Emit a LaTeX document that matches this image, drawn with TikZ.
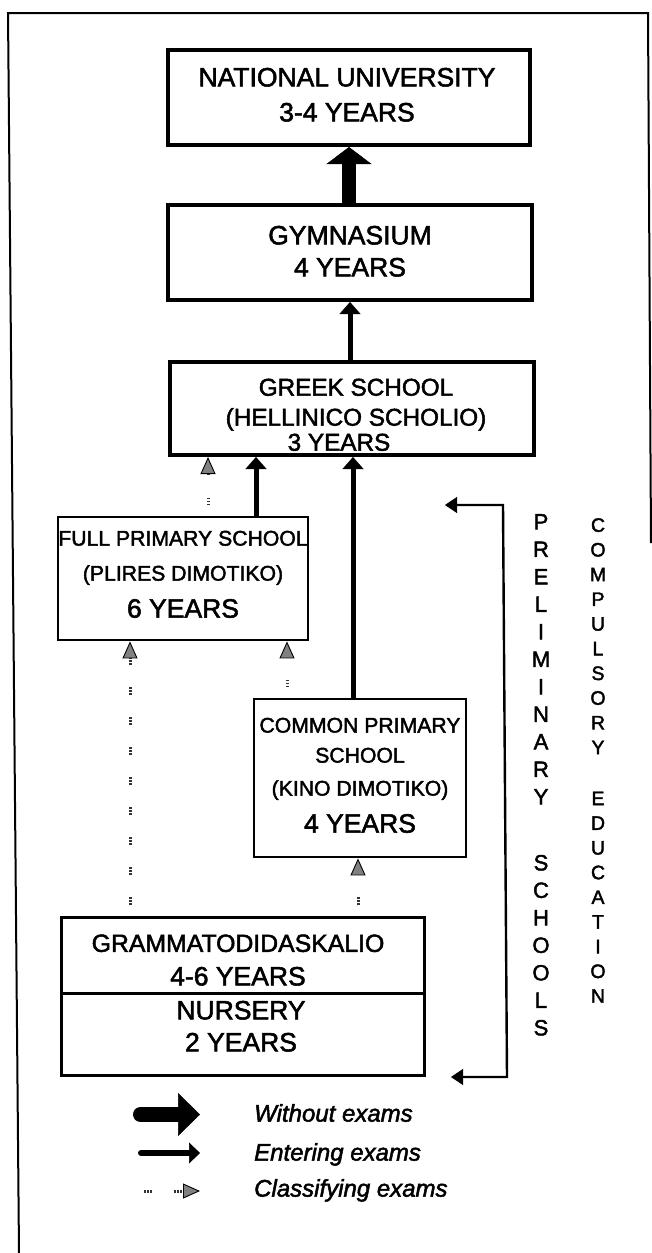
\documentclass[tikz,border=0pt]{standalone}
\usepackage{fontspec}
\setmainfont{Liberation Sans}[FakeBold=2]
\usetikzlibrary{arrows.meta}
\begin{document}
\begin{tikzpicture}[x=1bp,y=-1bp,
  bigbox/.style={draw, line width=4bp, inner sep=0pt},
  smallbox/.style={draw, line width=2.8bp, inner sep=0pt},
  txt/.style={inner sep=0pt, align=center, anchor=north},
  legtxt/.style={inner sep=0pt, anchor=base west, font=\fontsize{24bp}{28bp}\selectfont\itshape},
  noexam/.style={line width=14bp, -{Triangle[width=45bp,length=17bp,line width=0.5bp]}},
  entry/.style={line width=5bp, -{Triangle[width=21bp,length=12bp,line width=0.5bp]}},
  classify/.style={black!80, line width=3bp,
    dash pattern=on 1.6bp off 1.4bp on 1.6bp off 1.4bp on 1.6bp off 22.4bp,
    dash phase=19.5bp,
    -{Triangle[width=15bp,length=17bp,color=black,fill=black!50,line width=0.9bp]}},
  feedback/.style={line width=2.4bp,
    {Triangle[width=16bp,length=12bp,line width=0.5bp]}-{Triangle[width=16bp,length=12bp,line width=0.5bp]}},
]
\useasboundingbox (0,0) rectangle (652,1253);

% outer frame (open at the bottom and lower right)
\coordinate (frbl) at (19,1253);
\coordinate (frtl) at (8,13);
\coordinate (frtr) at (648,13);
\coordinate (frr)  at (651,543);
\draw[line width=2bp] (frbl) -- (frtl) -- (frtr) -- (frr);

% school boxes
\node[bigbox, minimum width=362bp, minimum height=95bp] (nat) at (349,97.5) {};
\node[bigbox, minimum width=364bp, minimum height=95bp] (gym) at (350,252.5) {};
\node[bigbox, minimum width=364bp, minimum height=93bp] (greek) at (352,408.5) {};
\node[smallbox, minimum width=250bp, minimum height=123bp] (full) at (183,578.5) {};
\node[smallbox, minimum width=212bp, minimum height=158bp] (common) at (360,778) {};
\node[smallbox, line width=3bp, minimum width=362bp, minimum height=76bp] (gram) at (243,955) {};
\node[smallbox, line width=3bp, minimum width=362bp, minimum height=82bp] (nurs) at (243,1034) {};

% box texts
\node[txt, font=\fontsize{26.5bp}{35bp}\selectfont] (nat-t) at (347,67.7)
  {NATIONAL UNIVERSITY\\3-4 YEARS};
\node[txt, font=\fontsize{26.5bp}{32bp}\selectfont] (gym-t) at (350,225.7)
  {GYMNASIUM\\4 YEARS};
\node[txt, font=\fontsize{24.3bp}{30bp}\selectfont] (greek-t) at (356,378.5)
  {GREEK SCHOOL\\(HELLINICO SCHOLIO)\\[-5bp]3 YEARS\hspace*{34bp}};
\node[txt, font=\fontsize{21.2bp}{35bp}\selectfont] (full-t) at (183,530.6)
  {FULL PRIMARY SCHOOL\\(PLIRES DIMOTIKO)\\[2bp]\fontsize{26.5bp}{35bp}\selectfont 6 YEARS};
\node[txt, font=\fontsize{21.2bp}{30bp}\selectfont] (common-t) at (360,717.6)
  {COMMON PRIMARY\\SCHOOL\\[3bp](KINO DIMOTIKO)\\[7bp]\fontsize{26.5bp}{30bp}\selectfont 4 YEARS};
\node[txt, font=\fontsize{24.8bp}{33.6bp}\selectfont] (gram-t) at (238,934.3)
  {GRAMMATODIDASKALIO\\\fontsize{26.5bp}{33.6bp}\selectfont 4-6 YEARS};
\node[txt, font=\fontsize{26.5bp}{32bp}\selectfont] (nurs-t) at (241,1000.7)
  {NURSERY\\2 YEARS};

% side labels, one letter per line
\node[txt, font=\fontsize{22bp}{27.5bp}\selectfont] (prelim) at (541,514)
  {P\\R\\E\\L\\I\\M\\I\\N\\A\\R\\Y\\[38.5bp]S\\C\\H\\O\\O\\L\\S};
\node[txt, font=\fontsize{19.5bp}{24.7bp}\selectfont] (compul) at (598,518)
  {C\\O\\M\\P\\U\\L\\S\\O\\R\\Y\\[26.3bp]E\\D\\U\\C\\A\\T\\I\\O\\N};

% transitions between schools
\draw[noexam] (gym.north -| nat.south) -- (nat.south);
\draw[entry] (greek.north -| gym.south) -- (gym.south);
\coordinate (xfull) at (256,0);
\coordinate (xcomm) at (353,0);
\draw[entry] (full.north -| xfull) -- (greek.south -| xfull);
\draw[entry] (common.north -| xcomm) -- (greek.south -| xcomm);

% classifying exams
\coordinate (c1) at (208,0);
\coordinate (c2) at (130,0);
\coordinate (c3) at (287,0);
\coordinate (c4) at (358,0);
\draw[classify] (full.north -| c1) -- (greek.south -| c1);
\draw[classify] (gram.north -| c2) -- (full.south -| c2);
\draw[classify] (common.north -| c3) -- (full.south -| c3);
\draw[classify] (gram.north -| c4) -- (common.south -| c4);

% bracket spanning the preliminary schools
\coordinate (fbtop) at (445,505);
\coordinate (fbc1) at (503,505);
\coordinate (fbc2) at (507,1077);
\coordinate (fbbot) at (451,1077);
\draw[feedback] (fbtop) -- (fbc1) -- (fbc2) -- (fbbot);

% legend
\coordinate (lg1a) at (140.5,1114.5);
\coordinate (lg1b) at (200,1114.5);
\coordinate (lg2a) at (141,1153);
\coordinate (lg2b) at (200,1153);
\coordinate (lg3a) at (143,1191);
\coordinate (lg3b) at (200,1191);
\draw[line width=15bp, line cap=round, -{Triangle[width=43bp,length=22bp,line width=0.5bp]}] (lg1a) -- (lg1b);
\draw[line width=6bp, line cap=round, -{Triangle[width=21bp,length=11bp,line width=0.5bp]}] (lg2a) -- (lg2b);
\draw[classify, dash phase=29bp] (lg3a) -- (lg3b);
\node[legtxt] (lt1) at (254,1121.6) {Without exams};
\node[legtxt] (lt2) at (254,1160.6) {Entering exams};
\node[legtxt] (lt3) at (254,1196.6) {Classifying exams};
\end{tikzpicture}
\end{document}
